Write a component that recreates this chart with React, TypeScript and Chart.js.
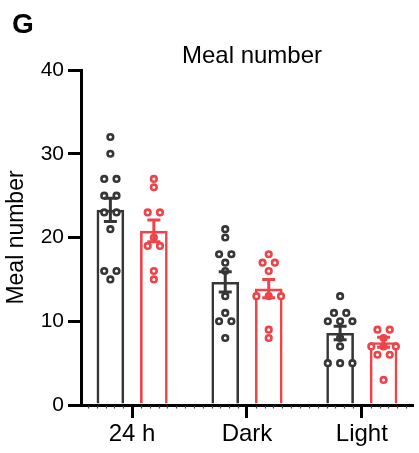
import React, { useEffect, useRef } from 'react';
import { Chart, registerables } from 'chart.js';

Chart.register(...registerables);

// ---- data ----
const categories = ['24 h', 'Dark', 'Light'];
const yTicks = [0, 10, 20, 30, 40];

// group A (black) and group B (red)
const groupAMeans = [23.3, 14.7, 8.6];
const groupASem = [1.4, 1.2, 0.8];
const groupBMeans = [20.8, 13.9, 7.5];
const groupBSem = [1.3, 1.1, 0.6];

const groupA24h = [32, 30, 27, 27, 25, 25, 23, 23, 21, 16, 16, 15];
const groupADark = [21, 20, 18, 18, 17, 16, 13, 11, 10, 10, 8];
const groupALight = [13, 11, 11, 10, 10, 10, 8, 7, 5, 5, 5];

const groupB24h = [27, 26, 23, 23, 20, 19, 19, 16, 15];
const groupBDark = [18, 17, 17, 16, 13, 13, 13, 9, 8];
const groupBLight = [9, 9, 8, 7, 7, 7, 6, 6, 3];

const groupAPoints = [groupA24h, groupADark, groupALight];
const groupBPoints = [groupB24h, groupBDark, groupBLight];

// ---- styling ----
const BLACK = '#363636';
const RED = '#ee4449';
const FONT = "'Liberation Sans', Arial, sans-serif";
const CAT_PCT = 0.757;
const BAR_PCT = 0.636;
const X_MIN = -0.445;
const X_MAX = 2.44;
const SWARM_STEP = 0.107;

function swarm(values: number[], center: number, step: number) {
  const counts = new Map<number, number>();
  values.forEach((v) => counts.set(v, (counts.get(v) || 0) + 1));
  const seen = new Map<number, number>();
  return values.map((v) => {
    const n = counts.get(v) as number;
    const k = seen.get(v) || 0;
    seen.set(v, k + 1);
    return { x: center + (k - (n - 1) / 2) * step, y: v };
  });
}

const errorBarsPlugin = {
  id: 'errorBars',
  afterDatasetsDraw(chart: any) {
    const { ctx } = chart;
    const y = chart.scales.y;
    chart.data.datasets.forEach((ds: any, di: number) => {
      if (ds.type !== 'bar') return;
      const meta = chart.getDatasetMeta(di);
      meta.data.forEach((el: any, i: number) => {
        const m = ds.data[i].y;
        const s = ds.sem[i];
        const top = y.getPixelForValue(m + s);
        const bot = y.getPixelForValue(m - s);
        const half = 6.5;
        ctx.save();
        ctx.strokeStyle = ds.borderColor;
        ctx.lineWidth = 3;
        ctx.beginPath();
        ctx.moveTo(el.x, top);
        ctx.lineTo(el.x, bot);
        ctx.moveTo(el.x - half, top);
        ctx.lineTo(el.x + half, top);
        ctx.moveTo(el.x - half, bot);
        ctx.lineTo(el.x + half, bot);
        ctx.stroke();
        ctx.restore();
      });
    });
  },
};

const decorPlugin = {
  id: 'decor',
  afterDraw(chart: any) {
    const { ctx, chartArea } = chart;
    const x = chart.scales.x;
    ctx.save();
    // minor ticks along x axis
    ctx.strokeStyle = '#444';
    ctx.lineWidth = 1.2;
    ctx.beginPath();
    const kMin = Math.ceil(X_MIN * 13);
    const kMax = Math.floor(X_MAX * 13);
    for (let k = kMin; k <= kMax; k++) {
      if (k % 13 === 0) continue;
      const px = Math.round(x.getPixelForValue(k / 13)) + 0.5;
      ctx.moveTo(px, chartArea.bottom + 1);
      ctx.lineTo(px, chartArea.bottom + 3.5);
    }
    ctx.stroke();
    // panel letter and title
    ctx.fillStyle = '#000';
    ctx.textBaseline = 'alphabetic';
    ctx.textAlign = 'left';
    ctx.font = `bold 28px ${FONT}`;
    ctx.fillText('G', 12, 33);
    ctx.textAlign = 'center';
    ctx.font = `24px ${FONT}`;
    ctx.fillText('Meal number', 252, 63);
    ctx.restore();
  },
};

export default function App() {
  const ref = useRef<HTMLCanvasElement | null>(null);

  useEffect(() => {
    if (!ref.current) return;
    const off = CAT_PCT / 4;
    const pointsA = groupAPoints.flatMap((vals, i) => swarm(vals, i - off, SWARM_STEP));
    const pointsB = groupBPoints.flatMap((vals, i) => swarm(vals, i + off, SWARM_STEP));

    const chart = new Chart(ref.current, {
      type: 'bar',
      data: {
        datasets: [
          {
            type: 'bar',
            label: 'A',
            data: groupAMeans.map((m, i) => ({ x: i, y: m })),
            sem: groupASem,
            backgroundColor: 'rgba(255,255,255,0)',
            borderColor: BLACK,
            borderWidth: 2.6,
            borderSkipped: 'start',
            categoryPercentage: CAT_PCT,
            barPercentage: BAR_PCT,
            order: 2,
          } as any,
          {
            type: 'bar',
            label: 'B',
            data: groupBMeans.map((m, i) => ({ x: i, y: m })),
            sem: groupBSem,
            backgroundColor: 'rgba(255,255,255,0)',
            borderColor: RED,
            borderWidth: 2.6,
            borderSkipped: 'start',
            categoryPercentage: CAT_PCT,
            barPercentage: BAR_PCT,
            order: 2,
          } as any,
          {
            type: 'scatter',
            label: 'A points',
            data: pointsA,
            pointRadius: 2.8,
            pointBorderWidth: 2.6,
            pointBackgroundColor: '#fff',
            pointBorderColor: BLACK,
            order: 1,
          } as any,
          {
            type: 'scatter',
            label: 'B points',
            data: pointsB,
            pointRadius: 2.8,
            pointBorderWidth: 2.6,
            pointBackgroundColor: '#fff',
            pointBorderColor: RED,
            order: 1,
          } as any,
        ],
      },
      options: {
        responsive: false,
        animation: false,
        devicePixelRatio: 1,
        layout: { padding: { top: 70, right: 4, left: 0, bottom: 0 } },
        plugins: {
          legend: { display: false },
          tooltip: { enabled: false },
        },
        scales: {
          x: {
            type: 'linear',
            min: X_MIN,
            max: X_MAX,
            offset: false,
            afterBuildTicks: (s: any) => {
              s.ticks = categories.map((_, i) => ({ value: i }));
            },
            afterFit: (s: any) => {
              s.height = 48;
            },
            ticks: {
              callback: (v: any) => categories[v] ?? '',
              font: { family: FONT, size: 24 },
              color: '#000',
              padding: 2,
              maxRotation: 0,
              autoSkip: false,
            },
            grid: {
              display: true,
              offset: false,
              drawOnChartArea: false,
              drawTicks: true,
              tickLength: 13,
              tickWidth: 3,
              tickColor: '#000',
              lineWidth: 3,
              color: '#000',
            },
            border: { display: true, width: 3, color: '#000' },
          },
          y: {
            type: 'linear',
            min: 0,
            max: 40,
            afterBuildTicks: (s: any) => {
              s.ticks = yTicks.map((v) => ({ value: v }));
            },
            afterFit: (s: any) => {
              s.width = 81;
            },
            ticks: {
              font: { family: FONT, size: 21 },
              color: '#000',
              padding: 4,
            },
            grid: {
              display: true,
              drawOnChartArea: false,
              drawTicks: true,
              tickLength: 13,
              tickWidth: 3,
              tickColor: '#000',
              lineWidth: 3,
              color: '#000',
            },
            border: { display: true, width: 3, color: '#000' },
            title: {
              display: true,
              text: 'Meal number',
              font: { family: FONT, size: 23 },
              color: '#000',
              padding: { top: 3, bottom: 0 },
            },
          },
        },
      } as any,
      plugins: [errorBarsPlugin, decorPlugin],
    });
    return () => chart.destroy();
  }, []);

  return (
    <div style={{ position: 'fixed', left: 0, top: 0, width: 419, height: 453, background: '#fff' }}>
      <canvas ref={ref} width={419} height={453} style={{ display: 'block', width: 419, height: 453 }} />
    </div>
  );
}
